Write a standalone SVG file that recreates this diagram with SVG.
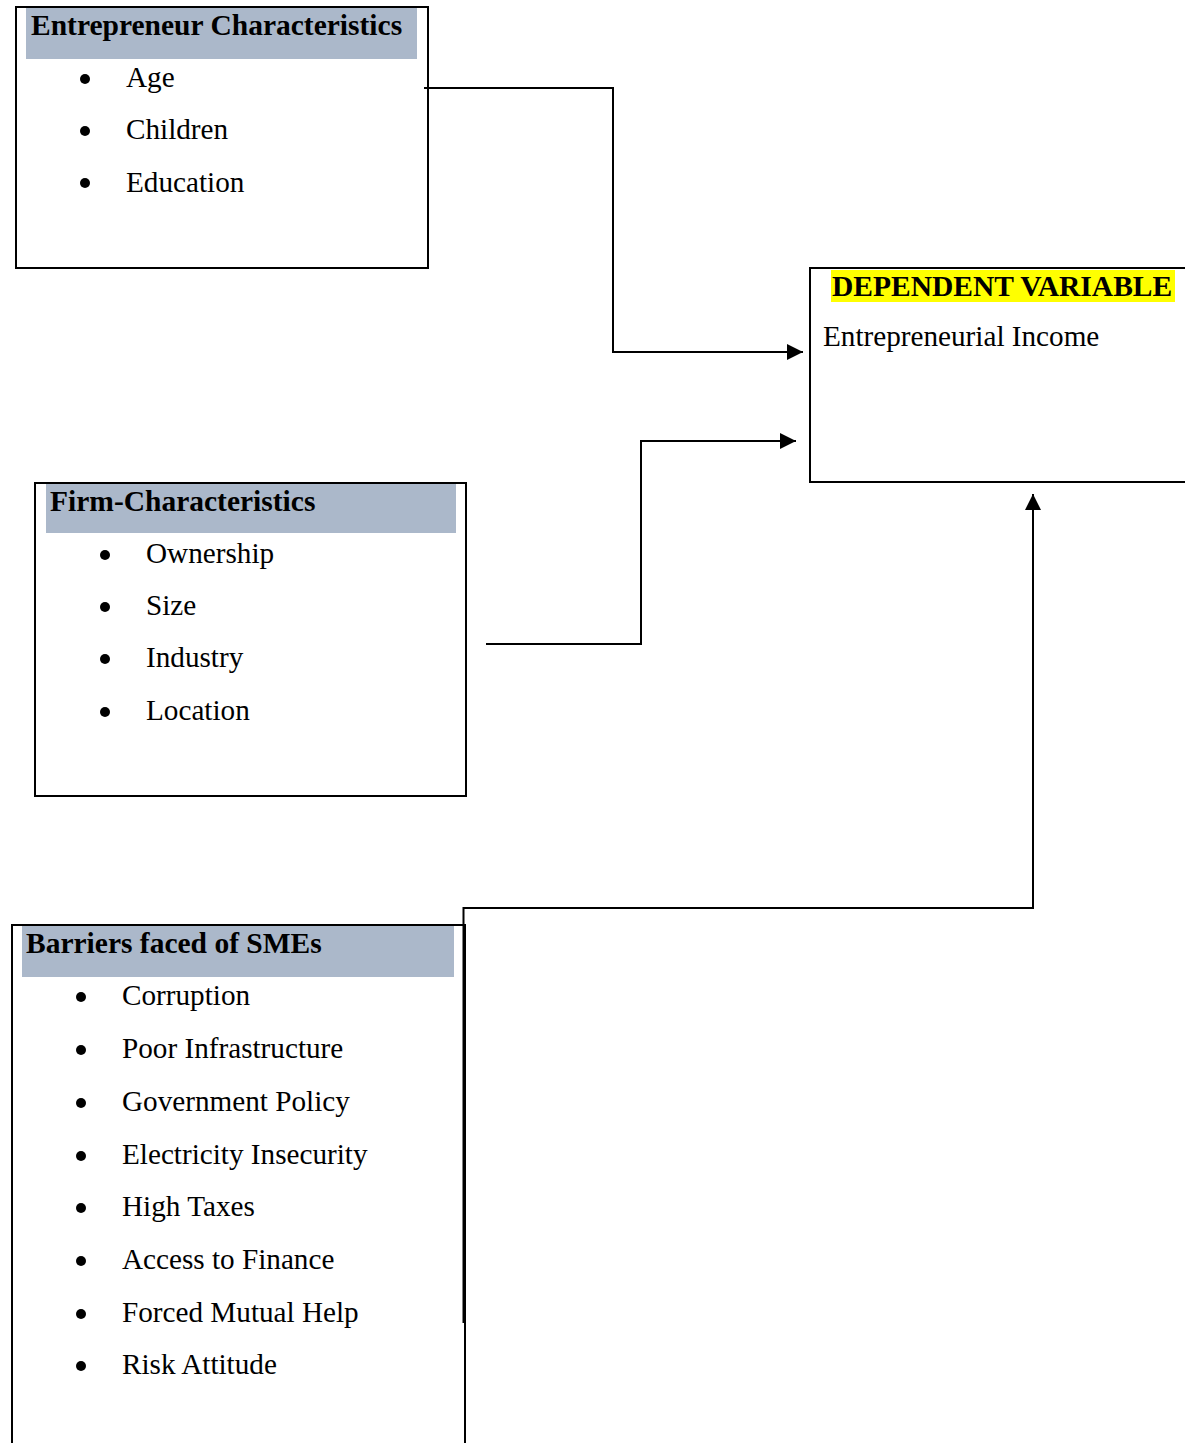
<svg xmlns="http://www.w3.org/2000/svg" width="1185" height="1443" viewBox="0 0 1185 1443">
<style>
.box{fill:none;stroke:#000;stroke-width:2}
.hdr{fill:#ABB8CA}
.t{font-family:"Liberation Serif","Times New Roman",serif;font-size:29.2px;fill:#000}
.b{font-weight:bold;font-size:29.5px}
.dot{fill:#000}
.con{fill:none;stroke:#000;stroke-width:2}
</style>
<defs>
<marker id="arr" markerUnits="userSpaceOnUse" markerWidth="16" markerHeight="16" viewBox="0 0 16 16" refX="16" refY="8" orient="auto">
<path d="M0,0 L16,8 L0,16 Z" fill="#000"/>
</marker>
</defs>
<rect width="1185" height="1443" fill="#fff"/>
<g id="entrepreneur">
<rect class="hdr" x="26" y="8" width="391" height="51"/>
<rect class="box" x="16" y="7" width="412" height="261"/>
<text class="t b" x="31" y="35">Entrepreneur Characteristics</text>
<circle class="dot" cx="85" cy="79" r="5"/><text class="t" x="126" y="87">Age</text>
<circle class="dot" cx="85" cy="131" r="5"/><text class="t" x="126" y="139">Children</text>
<circle class="dot" cx="85" cy="183" r="5"/><text class="t" x="126" y="192">Education</text>
</g>
<g id="dependent">
<rect x="831" y="270" width="344" height="32" fill="#FFFF00"/>
<path class="box" d="M1185,268 H810 V482 H1185"/>
<text class="t b" x="832" y="296">DEPENDENT VARIABLE</text>
<text class="t" x="823" y="346">Entrepreneurial Income</text>
</g>
<g id="firm">
<rect class="hdr" x="46" y="484" width="410" height="49"/>
<rect class="box" x="35" y="483" width="431" height="313"/>
<text class="t b" x="50" y="511">Firm-Characteristics</text>
<circle class="dot" cx="105" cy="555" r="5"/><text class="t" x="146" y="563">Ownership</text>
<circle class="dot" cx="105" cy="607" r="5"/><text class="t" x="146" y="615">Size</text>
<circle class="dot" cx="105" cy="659" r="5"/><text class="t" x="146" y="667">Industry</text>
<circle class="dot" cx="105" cy="712" r="5"/><text class="t" x="146" y="720">Location</text>
</g>
<g id="barriers">
<rect class="hdr" x="22" y="926" width="432" height="51"/>
<path class="box" d="M12,1443 V925 H465 V1443"/>
<text class="t b" x="26" y="953">Barriers faced of SMEs</text>
<circle class="dot" cx="81" cy="997" r="5"/><text class="t" x="122" y="1005">Corruption</text>
<circle class="dot" cx="81" cy="1050" r="5"/><text class="t" x="122" y="1058">Poor Infrastructure</text>
<circle class="dot" cx="81" cy="1103" r="5"/><text class="t" x="122" y="1111">Government Policy</text>
<circle class="dot" cx="81" cy="1156" r="5"/><text class="t" x="122" y="1164">Electricity Insecurity</text>
<circle class="dot" cx="81" cy="1208" r="5"/><text class="t" x="122" y="1216">High Taxes</text>
<circle class="dot" cx="81" cy="1261" r="5"/><text class="t" x="122" y="1269">Access to Finance</text>
<circle class="dot" cx="81" cy="1314" r="5"/><text class="t" x="122" y="1322">Forced Mutual Help</text>
<circle class="dot" cx="81" cy="1366" r="5"/><text class="t" x="122" y="1374">Risk Attitude</text>
</g>
<g id="connectors">
<path class="con" d="M424,88 H613 V352 H803" marker-end="url(#arr)"/>
<path class="con" d="M486,644 H641 V441 H796" marker-end="url(#arr)"/>
<path class="con" d="M463.5,1323 V908 H1033 V494" marker-end="url(#arr)"/>
</g>
</svg>
